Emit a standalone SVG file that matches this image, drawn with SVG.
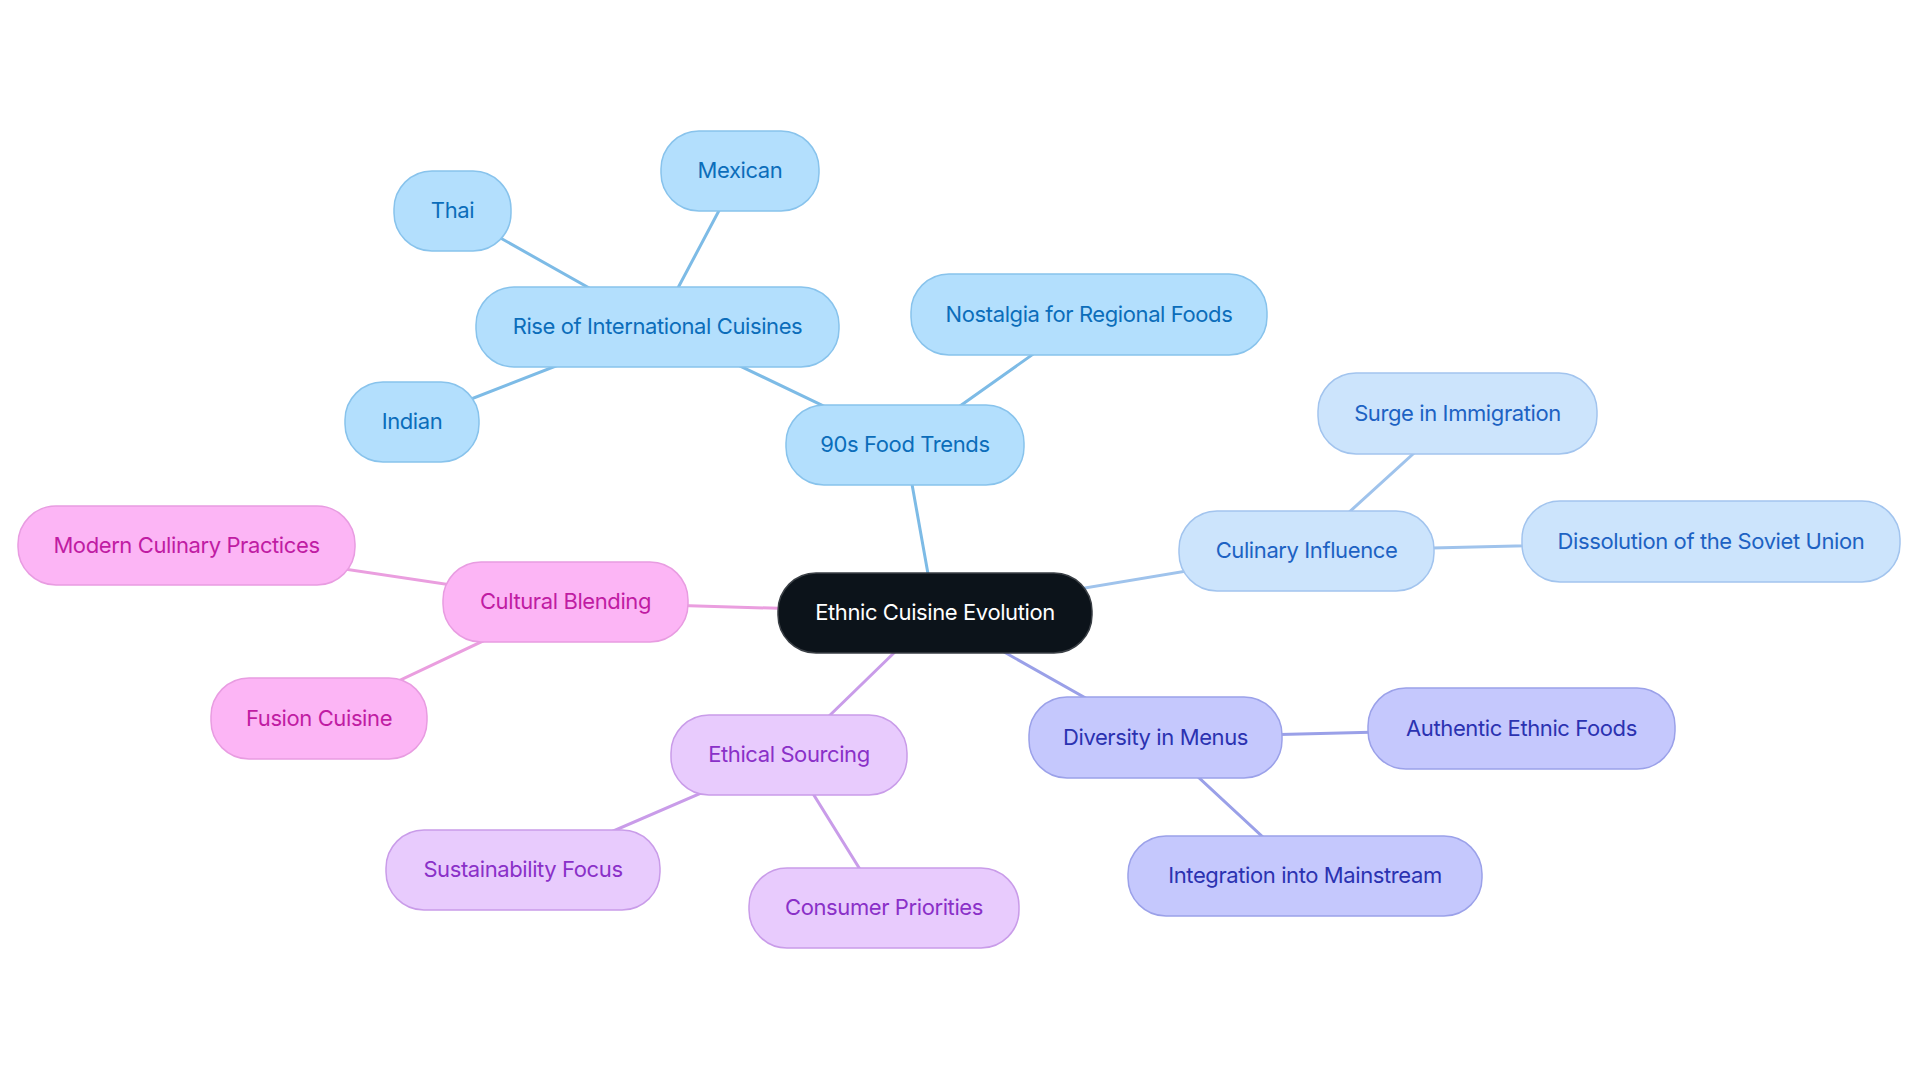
<svg xmlns="http://www.w3.org/2000/svg" width="1920" height="1083" viewBox="0 0 1920 1083">
<style>
text{font-family:Inter,"Noto Sans","Liberation Sans",sans-serif;font-size:22px;text-anchor:middle;letter-spacing:-0.4px}
rect{stroke-width:1.5}
.b rect{fill:#b3dffd;stroke:#88c3ec}.b text{fill:#0b6dba}
.c rect{fill:#cce4fc;stroke:#a2c4ee}.c text{fill:#1d62c3}
.p rect{fill:#fcb5f5;stroke:#e89ce1}.p text{fill:#c01ca3}
.v rect{fill:#e8cbfd;stroke:#c99ce9}.v text{fill:#8a30c8}
.i rect{fill:#c5c8fd;stroke:#9ba1e9}.i text{fill:#2b32b1}
.r rect{fill:#0c131a;stroke:#3a3f45}.r text{fill:#ffffff}
.e line{stroke-width:3;stroke-linecap:round}
.eb{stroke:#7dbbe6}.ec{stroke:#9fc3ec}.ep{stroke:#ea9edf}.ev{stroke:#c99ce9}.ei{stroke:#9aa0e8}
</style>
<rect width="1920" height="1083" fill="#ffffff"/>
<g id="connectors" class="e">
<line class="eb" x1="935" y1="613" x2="905" y2="445"/>
<line class="eb" x1="905" y1="445" x2="657.5" y2="326.5"/>
<line class="eb" x1="905" y1="445" x2="1089" y2="314.5"/>
<line class="eb" x1="657.5" y1="326.5" x2="452.5" y2="211"/>
<line class="eb" x1="657.5" y1="326.5" x2="740" y2="171"/>
<line class="eb" x1="657.5" y1="326.5" x2="412" y2="422"/>
<line class="ec" x1="935" y1="613" x2="1306.5" y2="551"/>
<line class="ec" x1="1306.5" y1="551" x2="1457.5" y2="413.5"/>
<line class="ec" x1="1306.5" y1="551" x2="1711" y2="541.5"/>
<line class="ep" x1="935" y1="613" x2="565.5" y2="602"/>
<line class="ep" x1="565.5" y1="602" x2="186.5" y2="545.5"/>
<line class="ep" x1="565.5" y1="602" x2="319" y2="718.5"/>
<line class="ev" x1="935" y1="613" x2="789" y2="755"/>
<line class="ev" x1="789" y1="755" x2="523" y2="870"/>
<line class="ev" x1="789" y1="755" x2="884" y2="908"/>
<line class="ei" x1="935" y1="613" x2="1155.5" y2="737.5"/>
<line class="ei" x1="1155.5" y1="737.5" x2="1521.5" y2="728.5"/>
<line class="ei" x1="1155.5" y1="737.5" x2="1305" y2="876"/>
</g>
<g id="root" class="r"><rect x="778" y="573" width="314" height="80" rx="38"/><text x="935" y="620">Ethnic Cuisine Evolution</text></g>
<g id="n90s" class="b"><rect x="786" y="405" width="238" height="80" rx="38"/><text x="905" y="452">90s Food Trends</text></g>
<g id="rise" class="b"><rect x="476" y="287" width="363" height="80" rx="38"/><text x="657.5" y="334">Rise of International Cuisines</text></g>
<g id="nostalgia" class="b"><rect x="911" y="274" width="356" height="81" rx="38"/><text x="1089" y="322">Nostalgia for Regional Foods</text></g>
<g id="thai" class="b"><rect x="394" y="171" width="117" height="80" rx="38"/><text x="452.5" y="218">Thai</text></g>
<g id="mexican" class="b"><rect x="661" y="131" width="158" height="80" rx="38"/><text x="740" y="178">Mexican</text></g>
<g id="indian" class="b"><rect x="345" y="382" width="134" height="80" rx="38"/><text x="412" y="429">Indian</text></g>
<g id="culinary" class="c"><rect x="1179" y="511" width="255" height="80" rx="38"/><text x="1306.5" y="558">Culinary Influence</text></g>
<g id="surge" class="c"><rect x="1318" y="373" width="279" height="81" rx="38"/><text x="1457.5" y="421">Surge in Immigration</text></g>
<g id="dissolution" class="c"><rect x="1522" y="501" width="378" height="81" rx="38"/><text x="1711" y="549">Dissolution of the Soviet Union</text></g>
<g id="cultural" class="p"><rect x="443" y="562" width="245" height="80" rx="38"/><text x="565.5" y="609">Cultural Blending</text></g>
<g id="modern" class="p"><rect x="18" y="506" width="337" height="79" rx="38"/><text x="186.5" y="553">Modern Culinary Practices</text></g>
<g id="fusion" class="p"><rect x="211" y="678" width="216" height="81" rx="38"/><text x="319" y="726">Fusion Cuisine</text></g>
<g id="ethical" class="v"><rect x="671" y="715" width="236" height="80" rx="38"/><text x="789" y="762">Ethical Sourcing</text></g>
<g id="sustainability" class="v"><rect x="386" y="830" width="274" height="80" rx="38"/><text x="523" y="877">Sustainability Focus</text></g>
<g id="consumer" class="v"><rect x="749" y="868" width="270" height="80" rx="38"/><text x="884" y="915">Consumer Priorities</text></g>
<g id="diversity" class="i"><rect x="1029" y="697" width="253" height="81" rx="38"/><text x="1155.5" y="745">Diversity in Menus</text></g>
<g id="authentic" class="i"><rect x="1368" y="688" width="307" height="81" rx="38"/><text x="1521.5" y="736">Authentic Ethnic Foods</text></g>
<g id="integration" class="i"><rect x="1128" y="836" width="354" height="80" rx="38"/><text x="1305" y="883">Integration into Mainstream</text></g>
</svg>
